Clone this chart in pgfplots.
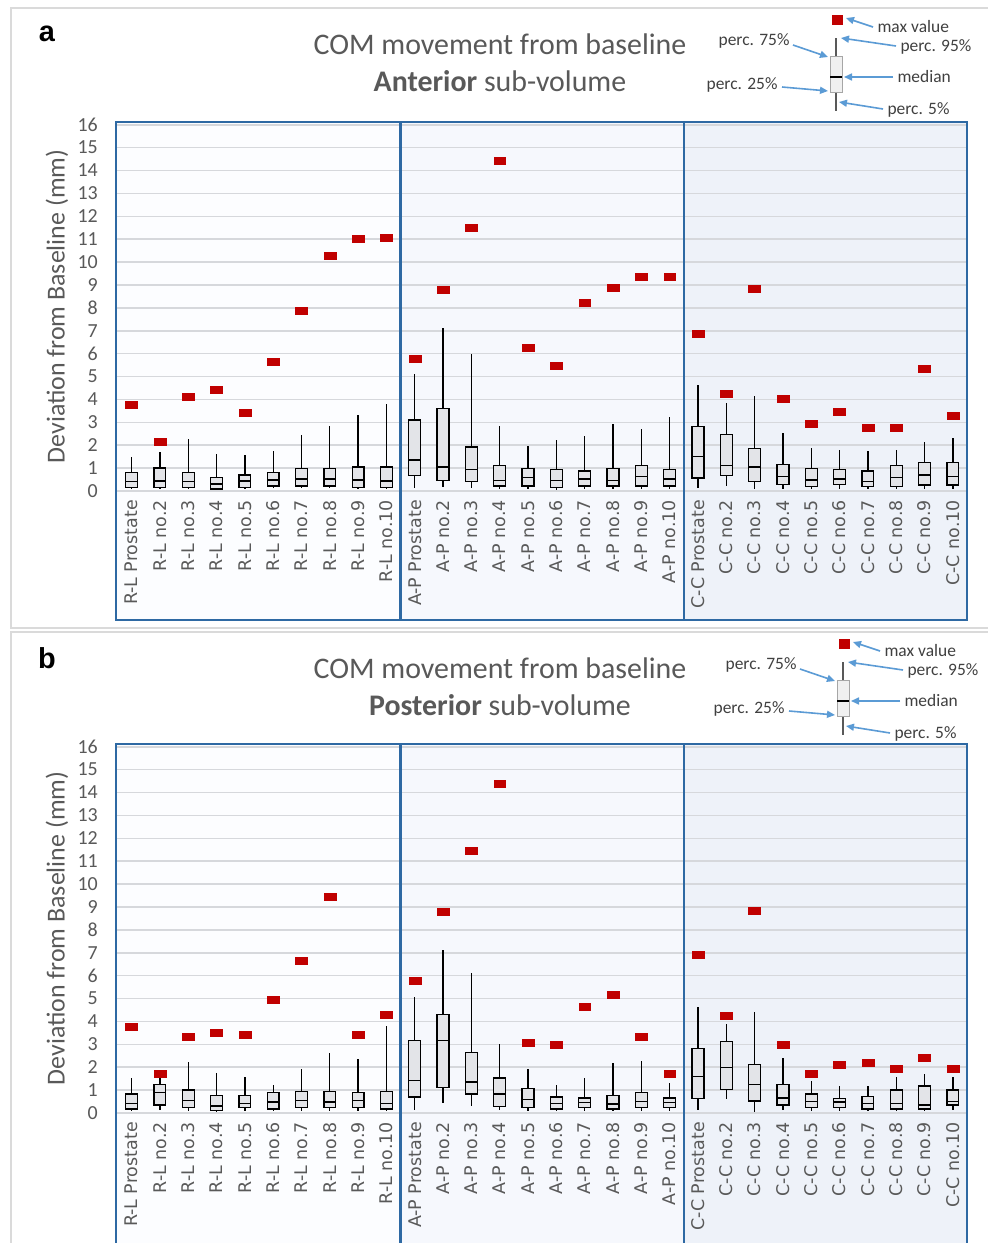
\documentclass[border=0pt]{standalone}
\usepackage{fontspec}
\setmainfont{Carlito}
\newfontfamily\dejavu{DejaVu Sans}
\newfontfamily\arial{Liberation Sans}
\usepackage{pgfplots}
\pgfplotsset{compat=1.18}
\usepackage{pgfplotstable}
\usepgfplotslibrary{statistics}
\usetikzlibrary{arrows.meta}

\definecolor{txtgray}{HTML}{595959}
\definecolor{legtxt}{HTML}{404040}
\definecolor{frameblue}{HTML}{2E69A3}
\definecolor{bgA}{HTML}{FCFDFF}
\definecolor{bgB}{HTML}{F6F8FD}
\definecolor{bgC}{HTML}{EEF2F9}
\definecolor{gridc}{HTML}{D6D8DC}
\definecolor{boxc}{HTML}{E3E4E8}
\definecolor{maxred}{HTML}{C00000}
\definecolor{arrowblue}{HTML}{5B9BD5}
\definecolor{panelgray}{HTML}{DADADA}

% pos p5 q1 med q3 p95 max  (anterior)
\pgfplotstableread{
pos p5 q1 med q3 p95 max
0 0.08 0.15 0.41 0.82 1.50 3.75
1 0.08 0.15 0.44 1.00 1.69 2.16
2 0.08 0.15 0.41 0.82 2.27 4.11
3 0.05 0.09 0.30 0.58 1.63 4.42
4 0.08 0.15 0.44 0.70 1.57 3.40
5 0.12 0.22 0.48 0.82 1.75 5.66
6 0.12 0.22 0.52 0.99 2.45 7.89
7 0.12 0.22 0.52 0.99 2.86 10.29
8 0.08 0.16 0.48 1.05 3.34 11.02
9 0.08 0.16 0.44 1.05 3.80 11.08
10 0.12 0.69 1.36 3.10 5.12 5.77
11 0.16 0.47 1.05 3.59 7.11 8.78
12 0.12 0.41 0.93 1.92 5.99 11.49
13 0.10 0.22 0.47 1.11 2.86 14.43
14 0.10 0.22 0.58 0.99 1.98 6.24
15 0.06 0.15 0.47 0.93 2.22 5.48
16 0.10 0.22 0.52 0.87 2.39 8.24
17 0.10 0.22 0.47 0.99 2.93 8.89
18 0.10 0.22 0.64 1.11 2.70 9.36
19 0.10 0.22 0.52 0.93 3.22 9.36
20 0.12 0.57 1.52 2.81 4.64 6.88
21 0.23 0.69 1.11 2.46 3.85 4.24
22 0.07 0.41 1.05 1.87 4.17 8.83
23 0.10 0.28 0.64 1.17 2.52 4.05
24 0.08 0.20 0.48 0.99 1.87 2.93
25 0.10 0.28 0.52 0.93 1.81 3.45
26 0.08 0.20 0.41 0.87 1.75 2.76
27 0.08 0.20 0.58 1.11 1.81 2.76
28 0.10 0.26 0.70 1.24 2.16 5.35
29 0.10 0.26 0.64 1.24 2.33 3.28
}\tabA

% posterior
\pgfplotstableread{
pos p5 q1 med q3 p95 max
0 0.08 0.17 0.42 0.83 1.53 3.76
1 0.12 0.35 0.89 1.24 1.55 1.71
2 0.10 0.23 0.54 1.00 2.23 3.35
3 0.06 0.12 0.31 0.77 1.76 3.53
4 0.10 0.23 0.42 0.77 1.59 3.41
5 0.08 0.17 0.48 0.89 1.24 4.96
6 0.10 0.23 0.54 0.95 1.94 6.66
7 0.10 0.23 0.48 0.95 2.64 9.43
8 0.10 0.23 0.54 0.89 2.35 3.41
9 0.08 0.17 0.42 0.95 3.80 4.30
10 0.12 0.70 1.41 3.18 5.07 5.79
11 0.44 1.12 3.18 4.31 7.11 8.79
12 0.31 0.83 1.36 2.65 6.12 11.44
13 0.12 0.29 0.83 1.53 3.00 14.39
14 0.10 0.23 0.60 1.06 1.94 3.06
15 0.08 0.17 0.41 0.70 1.24 3.00
16 0.10 0.23 0.45 0.66 1.53 4.66
17 0.08 0.17 0.39 0.77 2.19 5.19
18 0.10 0.23 0.51 0.89 2.29 3.35
19 0.10 0.23 0.45 0.66 1.30 1.71
20 0.12 0.64 1.59 2.81 4.61 6.90
21 0.60 1.03 2.00 3.12 3.89 4.24
22 0.06 0.52 1.24 2.13 4.42 8.85
23 0.12 0.35 0.66 1.24 2.41 3.00
24 0.10 0.23 0.50 0.83 1.41 1.71
25 0.10 0.23 0.48 0.64 1.18 2.13
26 0.08 0.17 0.42 0.71 1.18 2.19
27 0.08 0.17 0.41 1.00 1.59 1.94
28 0.08 0.17 0.35 1.18 1.71 2.41
29 0.12 0.35 0.51 1.00 1.59 1.94
}\tabB

\pgfplotsset{
  panel/.style={
    scale only axis, width=851bp, height=369bp,
    anchor=south west,
    xmin=-0.55, xmax=29.5, ymin=0, ymax=16.12,
    clip=false, axis on top,
    axis line style={draw=none},
    major tick style={draw=none},
    xtick={0,...,29},
    xticklabels={R-L Prostate,R-L no.2,R-L no.3,R-L no.4,R-L no.5,R-L no.6,R-L no.7,R-L no.8,R-L no.9,R-L no.10,
      A-P Prostate,A-P no.2,A-P no.3,A-P no.4,A-P no.5,A-P no.6,A-P no.7,A-P no.8,A-P no.9,A-P no.10,
      C-C Prostate,C-C no.2,C-C no.3,C-C no.4,C-C no.5,C-C no.6,C-C no.7,C-C no.8,C-C no.9,C-C no.10},
    ytick={0,...,16},
    xticklabel style={yshift=-9bp, rotate=90, anchor=east, inner sep=0pt,
      font=\dejavu\fontsize{17.5}{19}\selectfont, text=txtgray},
    yticklabel style={font=\fontsize{20}{22}\selectfont, text=txtgray, inner sep=0pt, xshift=-18bp},
    /pgf/number format/assume math mode=true,
    ylabel={Deviation from Baseline (mm)},
    every axis y label/.style={at={(axis description cs:0,0.5)}, xshift=-59bp, rotate=90,
      anchor=center, font=\fontsize{26}{28}\selectfont, text=txtgray},
    boxplot/draw direction=y,
    boxplot/box extend=0.42,
    boxplot/whisker extend=0,
  },
  boxst/.style={draw=black, fill=boxc, line width=1.3bp},
  maxst/.style={only marks, mark=square*, mark size=3.5bp, color=maxred,
    mark options={xscale=1.7, draw=none}},
}

% one box per row of a table: #1 table, #2 row
\newcommand{\boxrow}[2]{%
  \pgfplotstablegetelem{#2}{p5}\of#1\let\vP\pgfplotsretval
  \pgfplotstablegetelem{#2}{q1}\of#1\let\vQ\pgfplotsretval
  \pgfplotstablegetelem{#2}{med}\of#1\let\vM\pgfplotsretval
  \pgfplotstablegetelem{#2}{q3}\of#1\let\vR\pgfplotsretval
  \pgfplotstablegetelem{#2}{p95}\of#1\let\vS\pgfplotsretval
  \edef\tmp{\noexpand\addplot[boxst, boxplot prepared={draw position=#2,
    lower whisker=\vP, lower quartile=\vQ, median=\vM, upper quartile=\vR,
    upper whisker=\vS}] coordinates {};}\tmp}

% panel letter, bold word, y offset, legend x offset
\newcommand{\panelextras}[4]{%
\begin{scope}[x=1bp, y=-1bp, shift={(0,#3)}]
  \draw[panelgray, line width=1.5bp] (11,8) rectangle (1000,628);
  \node[font=\arial\bfseries\fontsize{29}{30}\selectfont] at (47,34) {#1};
  \node[font=\fontsize{30}{32}\selectfont, text=txtgray] at (500,44) {COM movement from baseline};
  \node[font=\fontsize{30}{32}\selectfont, text=txtgray] at (500,81) {\textbf{#2} sub-volume};
  \begin{scope}[shift={(#4,0)}]
    \fill[maxred] (832,14.5) rectangle (843,25);
    \draw[line width=1.8bp, color=black!65] (836,38) -- (836,111);
    \filldraw[fill=black!6, draw=black!35, line width=1bp] (830,56) rectangle (842,92);
    \draw[black, line width=2bp] (830,77) -- (842,77);
    \begin{scope}[arrowblue, line width=1.6bp, -{Triangle[length=8bp,width=7bp]}]
      \draw (873,27) -- (846,18);
      \draw (896,46) -- (841,38);
      \draw (893,77) -- (844,77);
      \draw (883,109) -- (839,102);
      \draw (793,45) -- (828,57);
      \draw (782,87) -- (828,91);
    \end{scope}
    \begin{scope}[font=\fontsize{17.5}{19}\selectfont, text=legtxt]
      \node[anchor=west] at (874,27) {max value};
      \node[anchor=west] at (897,47) {perc. 95\%};
      \node[anchor=west] at (894,77) {median};
      \node[anchor=west] at (884,110) {perc. 5\%};
      \node[anchor=east] at (793,41) {perc. 75\%};
      \node[anchor=east] at (781,85) {perc. 25\%};
    \end{scope}
  \end{scope}
\end{scope}}

\begin{document}
\begin{tikzpicture}
\useasboundingbox (0,0) rectangle (988bp,-1243bp);
\clip (0,0) rectangle (988bp,-1243bp);
\fill[white] (0,0) rectangle (988bp,-1243bp);

\panelextras{a}{Anterior}{0}{0}
\panelextras{b}{Posterior}{624}{7}

\begin{axis}[panel, at={(116bp,-491bp)}]
  \fill[bgA] (axis cs:-0.55,-5.63) rectangle (axis cs:9.5,16.12);
  \fill[bgB] (axis cs:9.5,-5.63) rectangle (axis cs:19.5,16.12);
  \fill[bgC] (axis cs:19.5,-5.63) rectangle (axis cs:29.5,16.12);
  \pgfplotsinvokeforeach{0,...,16}{\draw[gridc, line width=1.6bp] (axis cs:-0.55,#1) -- (axis cs:29.5,#1);}
  \draw[frameblue, line width=2.5bp] (axis cs:-0.55,-5.63) rectangle (axis cs:9.5,16.12);
  \draw[frameblue, line width=2.5bp] (axis cs:9.5,-5.63) rectangle (axis cs:19.5,16.12);
  \draw[frameblue, line width=2.5bp] (axis cs:19.5,-5.63) rectangle (axis cs:29.5,16.12);
  \pgfplotsinvokeforeach{0,...,29}{\boxrow{\tabA}{#1}}
  \addplot[maxst] table[x=pos, y=max] {\tabA};
\end{axis}

\begin{axis}[panel, at={(116bp,-1113bp)}]
  \fill[bgA] (axis cs:-0.55,-6.2) rectangle (axis cs:9.5,16.12);
  \fill[bgB] (axis cs:9.5,-6.2) rectangle (axis cs:19.5,16.12);
  \fill[bgC] (axis cs:19.5,-6.2) rectangle (axis cs:29.5,16.12);
  \pgfplotsinvokeforeach{0,...,16}{\draw[gridc, line width=1.6bp] (axis cs:-0.55,#1) -- (axis cs:29.5,#1);}
  \draw[frameblue, line width=2.5bp] (axis cs:-0.55,-6.2) rectangle (axis cs:9.5,16.12);
  \draw[frameblue, line width=2.5bp] (axis cs:9.5,-6.2) rectangle (axis cs:19.5,16.12);
  \draw[frameblue, line width=2.5bp] (axis cs:19.5,-6.2) rectangle (axis cs:29.5,16.12);
  \pgfplotsinvokeforeach{0,...,29}{\boxrow{\tabB}{#1}}
  \addplot[maxst] table[x=pos, y=max] {\tabB};
\end{axis}
\end{tikzpicture}
\end{document}
